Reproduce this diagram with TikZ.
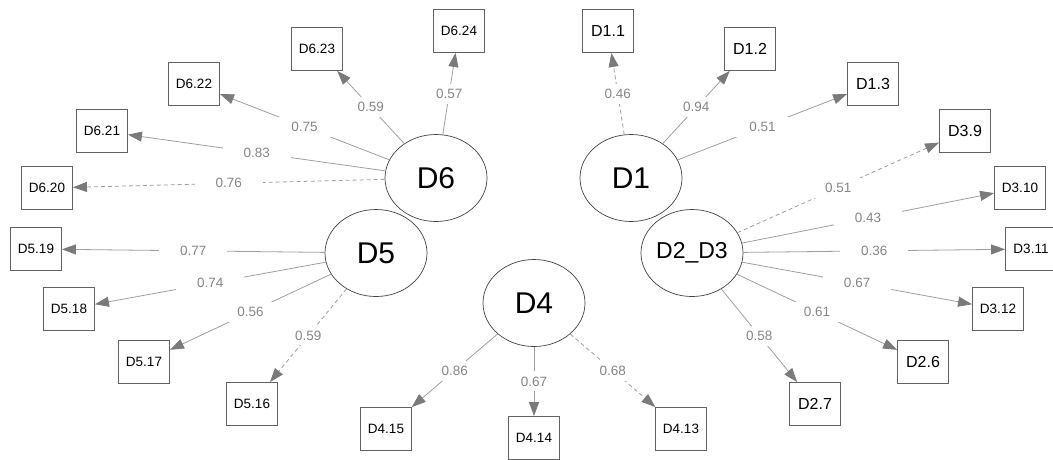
\documentclass[tikz,border=0pt]{standalone}
\usepackage{fontspec}
\setmainfont{Liberation Sans}
\usetikzlibrary{arrows.meta,shapes.geometric}

\definecolor{edgegray}{gray}{0.62}
\definecolor{tipgray}{gray}{0.48}
\definecolor{coefgray}{gray}{0.52}

\begin{document}
\begin{tikzpicture}[
  x=1pt, y=-1pt,
  >={Triangle[length=14pt,width=10pt,color=tipgray]},
  latent/.style={
    ellipse, draw=black!75, line width=0.7pt, inner sep=0pt,
    minimum width=102pt, minimum height=87pt,
    font=\fontsize{30}{30}\selectfont
  },
  item/.style={
    draw=black!62, line width=0.9pt, inner sep=0pt,
    minimum width=51pt, minimum height=43pt,
    font=\fontsize{13.5}{14}\selectfont
  },
  itemw/.style={item, font=\fontsize{16}{16}\selectfont},
  load/.style={->, edgegray, line width=0.8pt},
  dload/.style={load, dash pattern=on 4pt off 3pt},
  coef/.style={
    midway, fill=white, text=coefgray, inner sep=0pt,
    minimum width=68pt, minimum height=20pt,
    font=\fontsize{13.5}{14}\selectfont
  }
]
\useasboundingbox (0,0) rectangle (1053,459);

% ---------- latent factors ----------
\node[latent] (D6)  at (436,178) {D6};
\node[latent] (D1)  at (631,178) {D1};
\node[latent] (D5)  at (376,253) {D5};
\node[latent, font=\fontsize{23}{23}\selectfont] (D23) at (692,253) {D2\_D3};
\node[latent] (D4)  at (534,303) {D4};

% ---------- items ----------
\node[item]  (d6x20) at (47,188)  {D6.20};
\node[item]  (d6x21) at (102,131) {D6.21};
\node[item]  (d6x22) at (194,84)  {D6.22};
\node[item]  (d6x23) at (317,49)  {D6.23};
\node[item]  (d6x24) at (459,31)  {D6.24};

\node[itemw] (d1x1)  at (608,31)  {D1.1};
\node[itemw] (d1x2)  at (750,49)  {D1.2};
\node[itemw] (d1x3)  at (873,84)  {D1.3};

\node[itemw] (d3x9)  at (965,131) {D3.9};
\node[item]  (d3x10) at (1020,188) {D3.10};
\node[item]  (d3x11) at (1031,249) {D3.11};
\node[item]  (d3x12) at (998,309) {D3.12};
\node[itemw] (d2x6)  at (923,362) {D2.6};
\node[itemw] (d2x7)  at (815,404) {D2.7};

\node[item]  (d5x19) at (36,249)  {D5.19};
\node[item]  (d5x18) at (69,309)  {D5.18};
\node[item]  (d5x17) at (144,362) {D5.17};
\node[item]  (d5x16) at (252,404) {D5.16};

\node[item]  (d4x15) at (386,429) {D4.15};
\node[item]  (d4x14) at (534,438) {D4.14};
\node[item]  (d4x13) at (681,429) {D4.13};

% ---------- loadings ----------
\draw[dload] (D6) -- (d6x20) node[coef] {0.76};
\draw[load]  (D6) -- (d6x21) node[coef] {0.83};
\draw[load]  (D6) -- (d6x22) node[coef] {0.75};
\draw[load]  (D6) -- (d6x23) node[coef] {0.59};
\draw[load]  (D6) -- (d6x24) node[coef] {0.57};

\draw[dload] (D1) -- (d1x1) node[coef] {0.46};
\draw[load]  (D1) -- (d1x2) node[coef] {0.94};
\draw[load]  (D1) -- (d1x3) node[coef] {0.51};

\draw[dload] (D23) -- (d3x9)  node[coef] {0.51};
\draw[load]  (D23) -- (d3x10) node[coef] {0.43};
\draw[load]  (D23) -- (d3x11) node[coef] {0.36};
\draw[load]  (D23) -- (d3x12) node[coef] {0.67};
\draw[load]  (D23) -- (d2x6)  node[coef] {0.61};
\draw[load]  (D23) -- (d2x7)  node[coef] {0.58};

\draw[load]  (D5) -- (d5x19) node[coef] {0.77};
\draw[load]  (D5) -- (d5x18) node[coef] {0.74};
\draw[load]  (D5) -- (d5x17) node[coef] {0.56};
\draw[dload] (D5) -- (d5x16) node[coef] {0.59};

\draw[load]  (D4) -- (d4x15) node[coef] {0.86};
\draw[load]  (D4) -- (d4x14) node[coef] {0.67};
\draw[dload] (D4) -- (d4x13) node[coef] {0.68};

\end{tikzpicture}
\end{document}
